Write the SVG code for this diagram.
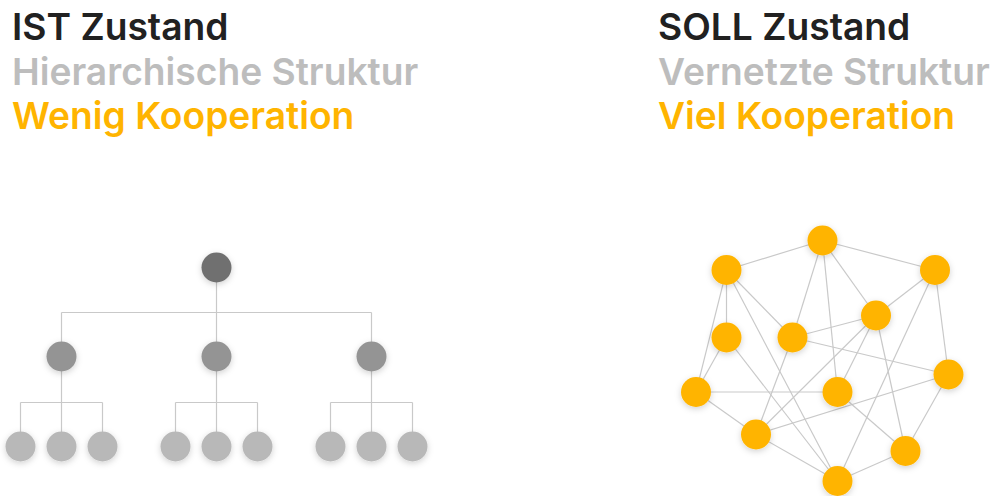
<svg xmlns="http://www.w3.org/2000/svg" width="995" height="496" viewBox="0 0 995 496">
  <style>
    .t { font-family: Inter, "Noto Sans", "Liberation Sans", sans-serif; font-size: 37.2px; font-weight: 600; }
    .dark { fill: #212121; }
    .grey { fill: #bdbdbd; }
    .gold { fill: #ffb400; }
    .edge { stroke: #c9c9c9; stroke-width: 1.2; fill: none; }
    .n0 { fill: #707070; filter: url(#sh); }
    .n1 { fill: #949494; filter: url(#sh); }
    .n2 { fill: #b8b8b8; filter: url(#sh); }
    .ny { fill: #ffb400; filter: url(#sh); }
  </style>
  <defs>
    <filter id="sh" x="-60%" y="-60%" width="220%" height="220%">
      <feDropShadow dx="0" dy="2" stdDeviation="3" flood-color="#000" flood-opacity="0.18"/>
    </filter>
  </defs>
  <rect width="995" height="496" fill="#fff"/>

  <!-- headings -->
  <g id="ist-text">
    <text class="t dark" x="12" y="40">IST Zustand</text>
    <text class="t grey" x="12" y="84.5">Hierarchische Struktur</text>
    <text class="t gold" x="12" y="128.5">Wenig Kooperation</text>
  </g>
  <g id="soll-text">
    <text class="t dark" x="658" y="40">SOLL Zustand</text>
    <text class="t grey" x="658" y="84.5">Vernetzte Struktur</text>
    <text class="t gold" x="658" y="128.5">Viel Kooperation</text>
  </g>

  <!-- hierarchy connectors -->
  <g id="tree-edges" class="edge">
    <path d="M216.5 267V356.5M61.5 312.5H371.5M61.5 312.5V356.5M371.5 312.5V356.5"/>
    <path d="M61.5 356.5V446.5M20.5 402.5H102.5M20.5 402.5V446.5M102.5 402.5V446.5"/>
    <path d="M216.5 356.5V446.5M175.5 402.5H257.5M175.5 402.5V446.5M257.5 402.5V446.5"/>
    <path d="M371.5 356.5V446.5M330.5 402.5H412.5M330.5 402.5V446.5M412.5 402.5V446.5"/>
  </g>

  <!-- hierarchy nodes -->
  <g id="tree-root"><circle class="n0" cx="216.5" cy="267.5" r="15"/></g>
  <g id="tree-mid-1"><circle class="n1" cx="61.5" cy="356.5" r="15"/></g>
  <g id="tree-mid-2"><circle class="n1" cx="216.5" cy="356.5" r="15"/></g>
  <g id="tree-mid-3"><circle class="n1" cx="371.5" cy="356.5" r="15"/></g>
  <g id="tree-leaf-1"><circle class="n2" cx="20.5" cy="446.5" r="15"/></g>
  <g id="tree-leaf-2"><circle class="n2" cx="61.5" cy="446.5" r="15"/></g>
  <g id="tree-leaf-3"><circle class="n2" cx="102.5" cy="446.5" r="15"/></g>
  <g id="tree-leaf-4"><circle class="n2" cx="175.5" cy="446.5" r="15"/></g>
  <g id="tree-leaf-5"><circle class="n2" cx="216.5" cy="446.5" r="15"/></g>
  <g id="tree-leaf-6"><circle class="n2" cx="257.5" cy="446.5" r="15"/></g>
  <g id="tree-leaf-7"><circle class="n2" cx="330.5" cy="446.5" r="15"/></g>
  <g id="tree-leaf-8"><circle class="n2" cx="371.5" cy="446.5" r="15"/></g>
  <g id="tree-leaf-9"><circle class="n2" cx="412.5" cy="446.5" r="15"/></g>

  <!-- network connectors -->
  <g id="net-edges" class="edge">
    <line x1="822.5" y1="240.5" x2="726.5" y2="270"/>
    <line x1="822.5" y1="240.5" x2="935" y2="270"/>
    <line x1="822.5" y1="240.5" x2="792.5" y2="337.5"/>
    <line x1="822.5" y1="240.5" x2="837.5" y2="392"/>
    <line x1="822.5" y1="240.5" x2="876" y2="315.5"/>
    <line x1="726.5" y1="270" x2="726.5" y2="337.5"/>
    <line x1="726.5" y1="270" x2="696" y2="392"/>
    <line x1="726.5" y1="270" x2="792.5" y2="337.5"/>
    <line x1="726.5" y1="270" x2="837.5" y2="481"/>
    <line x1="935" y1="270" x2="876" y2="315.5"/>
    <line x1="935" y1="270" x2="948.5" y2="374.5"/>
    <line x1="935" y1="270" x2="837.5" y2="481"/>
    <line x1="876" y1="315.5" x2="792.5" y2="337.5"/>
    <line x1="876" y1="315.5" x2="837.5" y2="392"/>
    <line x1="876" y1="315.5" x2="756" y2="434.5"/>
    <line x1="876" y1="315.5" x2="905.5" y2="451"/>
    <line x1="726.5" y1="337.5" x2="696" y2="392"/>
    <line x1="726.5" y1="337.5" x2="837.5" y2="481"/>
    <line x1="792.5" y1="337.5" x2="948.5" y2="374.5"/>
    <line x1="792.5" y1="337.5" x2="756" y2="434.5"/>
    <line x1="948.5" y1="374.5" x2="756" y2="434.5"/>
    <line x1="948.5" y1="374.5" x2="905.5" y2="451"/>
    <line x1="696" y1="392" x2="837.5" y2="392"/>
    <line x1="696" y1="392" x2="756" y2="434.5"/>
    <line x1="837.5" y1="392" x2="905.5" y2="451"/>
    <line x1="756" y1="434.5" x2="837.5" y2="481"/>
    <line x1="905.5" y1="451" x2="837.5" y2="481"/>
  </g>

  <!-- network nodes -->
  <g id="net-a"><circle class="ny" cx="822.5" cy="240.5" r="15"/></g>
  <g id="net-b"><circle class="ny" cx="726.5" cy="270" r="15"/></g>
  <g id="net-c"><circle class="ny" cx="935" cy="270" r="15"/></g>
  <g id="net-d"><circle class="ny" cx="876" cy="315.5" r="15"/></g>
  <g id="net-e"><circle class="ny" cx="726.5" cy="337.5" r="15"/></g>
  <g id="net-f"><circle class="ny" cx="792.5" cy="337.5" r="15"/></g>
  <g id="net-g"><circle class="ny" cx="948.5" cy="374.5" r="15"/></g>
  <g id="net-h"><circle class="ny" cx="696" cy="392" r="15"/></g>
  <g id="net-i"><circle class="ny" cx="837.5" cy="392" r="15"/></g>
  <g id="net-j"><circle class="ny" cx="756" cy="434.5" r="15"/></g>
  <g id="net-k"><circle class="ny" cx="905.5" cy="451" r="15"/></g>
  <g id="net-l"><circle class="ny" cx="837.5" cy="481" r="15"/></g>
</svg>
